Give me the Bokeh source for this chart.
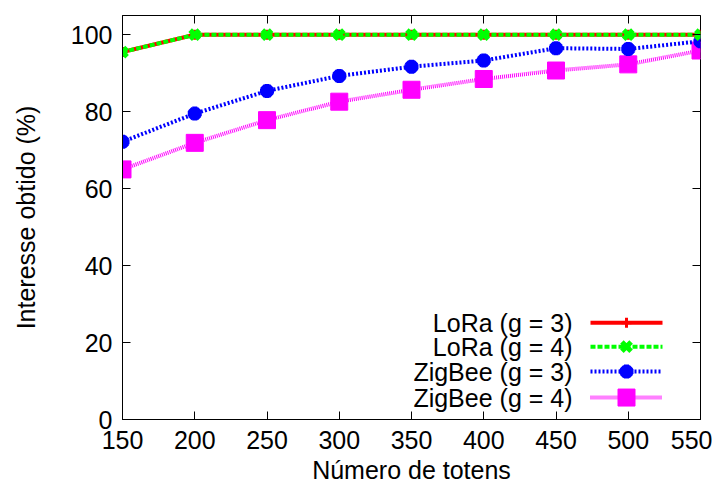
from bokeh.plotting import figure
from bokeh.models import Range1d, LinearAxis, Label, FixedTicker
from bokeh.embed import file_html
from bokeh.resources import INLINE

tokens = [150, 200, 250, 300, 350, 400, 450, 500, 550]
lora_g3 = [95.5, 100, 100, 100, 100, 100, 100, 100, 100]
lora_g4 = [95.5, 100, 100, 100, 100, 100, 100, 100, 100]
zigbee_g3 = [72.2, 79.5, 85.4, 89.3, 91.7, 93.3, 96.5, 96.3, 98.3]
zigbee_g4 = [65.0, 71.9, 77.8, 82.6, 85.7, 88.5, 90.7, 92.3, 95.9]
series_names = ["LoRa (g = 3)", "LoRa (g = 4)", "ZigBee (g = 3)", "ZigBee (g = 4)"]
x_ticks = [150, 200, 250, 300, 350, 400, 450, 500, 550]
y_ticks = [0, 20, 40, 60, 80, 100]

FONT = "Liberation Sans"
FS = "25px"
W, H = 712, 486
FL, FR, FT, FB = 122, 12, 15, 66
FW, FH = W - FL - FR, H - FT - FB

p = figure(width=W, height=H, output_backend="svg", toolbar_location=None,
           x_range=Range1d(150, 550), y_range=Range1d(0, 105))
p.min_border_left = FL
p.min_border_right = FR
p.min_border_top = FT
p.min_border_bottom = FB
p.outline_line_color = "black"
p.outline_line_width = 1
p.xgrid.visible = False
p.ygrid.visible = False
p.background_fill_color = "white"
p.border_fill_color = "white"

for ax in (p.xaxis[0], p.yaxis[0]):
    ax.major_tick_in = 8
    ax.major_tick_out = 0
    ax.minor_tick_line_color = None
    ax.axis_line_color = "black"
    ax.major_label_text_font = FONT
    ax.major_label_text_font_size = FS
    ax.major_label_text_color = "black"
    ax.axis_label_text_font = FONT
    ax.axis_label_text_font_size = FS
    ax.axis_label_text_font_style = "normal"
    ax.axis_label_text_color = "black"
p.xaxis[0].ticker = FixedTicker(ticks=x_ticks)
p.yaxis[0].ticker = FixedTicker(ticks=y_ticks)
p.xaxis[0].axis_label = "Número de totens"
p.yaxis[0].axis_label = "Interesse obtido (%)"
p.xaxis[0].major_label_standoff = 11
p.xaxis[0].axis_label_standoff = 4
p.yaxis[0].major_label_standoff = 10
p.yaxis[0].axis_label_standoff = 28

for loc, tk in (("right", y_ticks), ("above", x_ticks)):
    a = LinearAxis(ticker=FixedTicker(ticks=tk))
    a.major_tick_in = 8
    a.major_tick_out = 0
    a.minor_tick_line_color = None
    a.major_label_text_font_size = "0px"
    a.major_label_standoff = 0
    a.axis_line_color = None
    p.add_layout(a, loc)

# series
p.line(tokens, lora_g3, line_color="#ff0000", line_width=4)
p.scatter(tokens, lora_g3, marker="cross", size=10, line_color="#ff0000", line_width=3)

p.line(tokens, zigbee_g4, line_color="#ff00ff", line_width=4, line_dash="1 1")
p.scatter(tokens, zigbee_g4, marker="square", size=17, fill_color="#ff00ff", line_color="#ff00ff")

p.line(tokens, zigbee_g3, line_color="#0000ff", line_width=4, line_dash="2 2")
p.scatter(tokens, zigbee_g3, marker="asterisk", size=14, line_color="#0000ff", line_width=5)

p.line(tokens, lora_g4, line_color="#00ff00", line_width=4, line_dash="5 2")
p.scatter(tokens, lora_g4, marker="x", size=13, line_color="#00ff00", line_width=5)

# custom legend (text left, sample right), frame-pixel coordinates
p.extra_x_ranges = {"leg": Range1d(0, FW)}
p.extra_y_ranges = {"leg": Range1d(0, FH)}
rows = [97, 73, 48, 22]
styles = [
    dict(color="#ff0000", dash="solid", marker="cross", size=10, lw=3, fill=None),
    dict(color="#00ff00", dash="5 2", marker="x", size=13, lw=5, fill=None),
    dict(color="#0000ff", dash="2 2", marker="asterisk", size=14, lw=5, fill=None),
    dict(color="#ff00ff", dash="1 1", marker="square", size=17, lw=1, fill="#ff00ff"),
]
for name, ry, st in zip(series_names, rows, styles):
    p.add_layout(Label(x=450, y=ry, x_range_name="leg", y_range_name="leg", text=name,
                       text_align="right", text_baseline="middle", text_font=FONT,
                       text_font_size=FS, text_color="black"))
    p.line([468, 540], [ry, ry], x_range_name="leg", y_range_name="leg",
           line_color=st["color"], line_width=4, line_dash=st["dash"])
    p.scatter([504], [ry], x_range_name="leg", y_range_name="leg", marker=st["marker"],
              size=st["size"], line_color=st["color"], line_width=st["lw"],
              fill_color=st["fill"])

open("out.html", "w").write(file_html(p, INLINE))
